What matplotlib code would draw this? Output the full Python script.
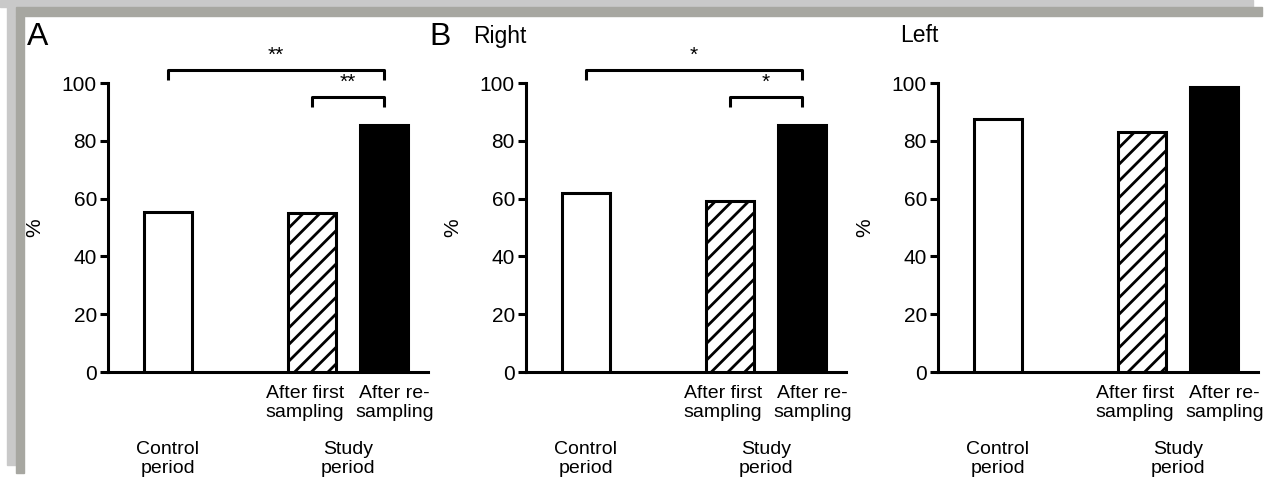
import matplotlib.pyplot as plt
from matplotlib.patches import Rectangle

plt.rcParams['font.family'] = ['Liberation Sans', 'DejaVu Sans']
plt.rcParams['hatch.linewidth'] = 2.0

W, H = 1268, 483

positions = [0, 2, 3]
hatches = ['', '//', '']
facecolors = ['white', 'white', 'black']
bar_labels = ['After first\nsampling', 'After re-\nsampling']
group_labels = ['Control\nperiod', 'Study\nperiod']

vals_a = [55.5, 55.0, 85.5]
vals_right = [62.0, 59.0, 85.5]
vals_left = [87.5, 83.0, 98.5]

sig_a = ['**', '**']
sig_right = ['*', '*']

fig = plt.figure(figsize=(W / 100, H / 100), dpi=100)


def fx(px):
    return px / W


def fy(py):
    return 1 - py / H


# shadowed frame round the figure
light = '#c9c9c9'
dark = '#a7a7a1'
fig.patches.append(Rectangle((fx(0), fy(7)), fx(1253), 7 / H, transform=fig.transFigure,
                             color=light, zorder=0))
fig.patches.append(Rectangle((fx(7), fy(465)), fx(9), 458 / H, transform=fig.transFigure,
                             color=light, zorder=0))
fig.patches.append(Rectangle((fx(16), fy(16)), fx(1246), 9 / H, transform=fig.transFigure,
                             color=dark, zorder=0))
fig.patches.append(Rectangle((fx(16), fy(473)), fx(8), 457 / H, transform=fig.transFigure,
                             color=dark, zorder=0))

xmin, xmax = -0.833, 3.61
unit = 72
y0, y100 = 372, 83
fs = 14


def panel(left_px, vals, sig=None, title=None, title_off=53):
    width_px = (xmax - xmin) * unit
    ax = fig.add_axes([fx(left_px), fy(y0), width_px / W, (y0 - y100) / H])
    for x, v, h, fc in zip(positions, vals, hatches, facecolors):
        ax.bar(x, v, width=0.667, color=fc, edgecolor='black', linewidth=2.2,
               hatch=h, zorder=3)
    ax.set_xlim(xmin, xmax)
    ax.set_ylim(0, 100)
    ax.set_yticks([0, 20, 40, 60, 80, 100])
    ax.set_xticks([])
    for s in ['top', 'right']:
        ax.spines[s].set_visible(False)
    for s in ['left', 'bottom']:
        ax.spines[s].set_linewidth(2.2)
    ax.tick_params(axis='y', length=6, width=2.2, labelsize=15, pad=2)
    ax.set_ylabel('%', fontsize=15)
    ax.yaxis.set_label_coords(-0.20, 0.5)

    kw = dict(ha='center', va='center', fontsize=fs, multialignment='center',
              linespacing=1.15, clip_on=False)
    ax.text(1.9, -10.6, bar_labels[0], **kw)
    ax.text(3.15, -10.6, bar_labels[1], **kw)
    ax.text(0, -30.0, group_labels[0], **kw)
    ax.text(2.5, -30.0, group_labels[1], **kw)

    if sig:
        # significance brackets
        ax.plot([0, 0, 3, 3], [101, 104.5, 104.5, 101], color='black', lw=2.2,
                clip_on=False, solid_capstyle='butt')
        ax.plot([2, 2, 3, 3], [91.7, 95.2, 95.2, 91.7], color='black', lw=2.2,
                clip_on=False, solid_capstyle='butt')
        ax.text(1.5, 106.3, sig[0], ha='center', va='bottom', fontsize=15,
                clip_on=False)
        ax.text(2.5, 97.0, sig[1], ha='center', va='bottom', fontsize=15,
                clip_on=False)
    if title:
        fig.text(fx(left_px - title_off), fy(36), title, ha='left', va='center',
                 fontsize=16.5)
    return ax


panel(108, vals_a, sig_a)
panel(526, vals_right, sig_right, 'Right', 53)
panel(938, vals_left, None, 'Left', 38)

fig.text(fx(27), fy(37), 'A', ha='left', va='center', fontsize=23)
fig.text(fx(429), fy(37), 'B', ha='left', va='center', fontsize=23)

fig.savefig('out.png', dpi=100, facecolor='white')
